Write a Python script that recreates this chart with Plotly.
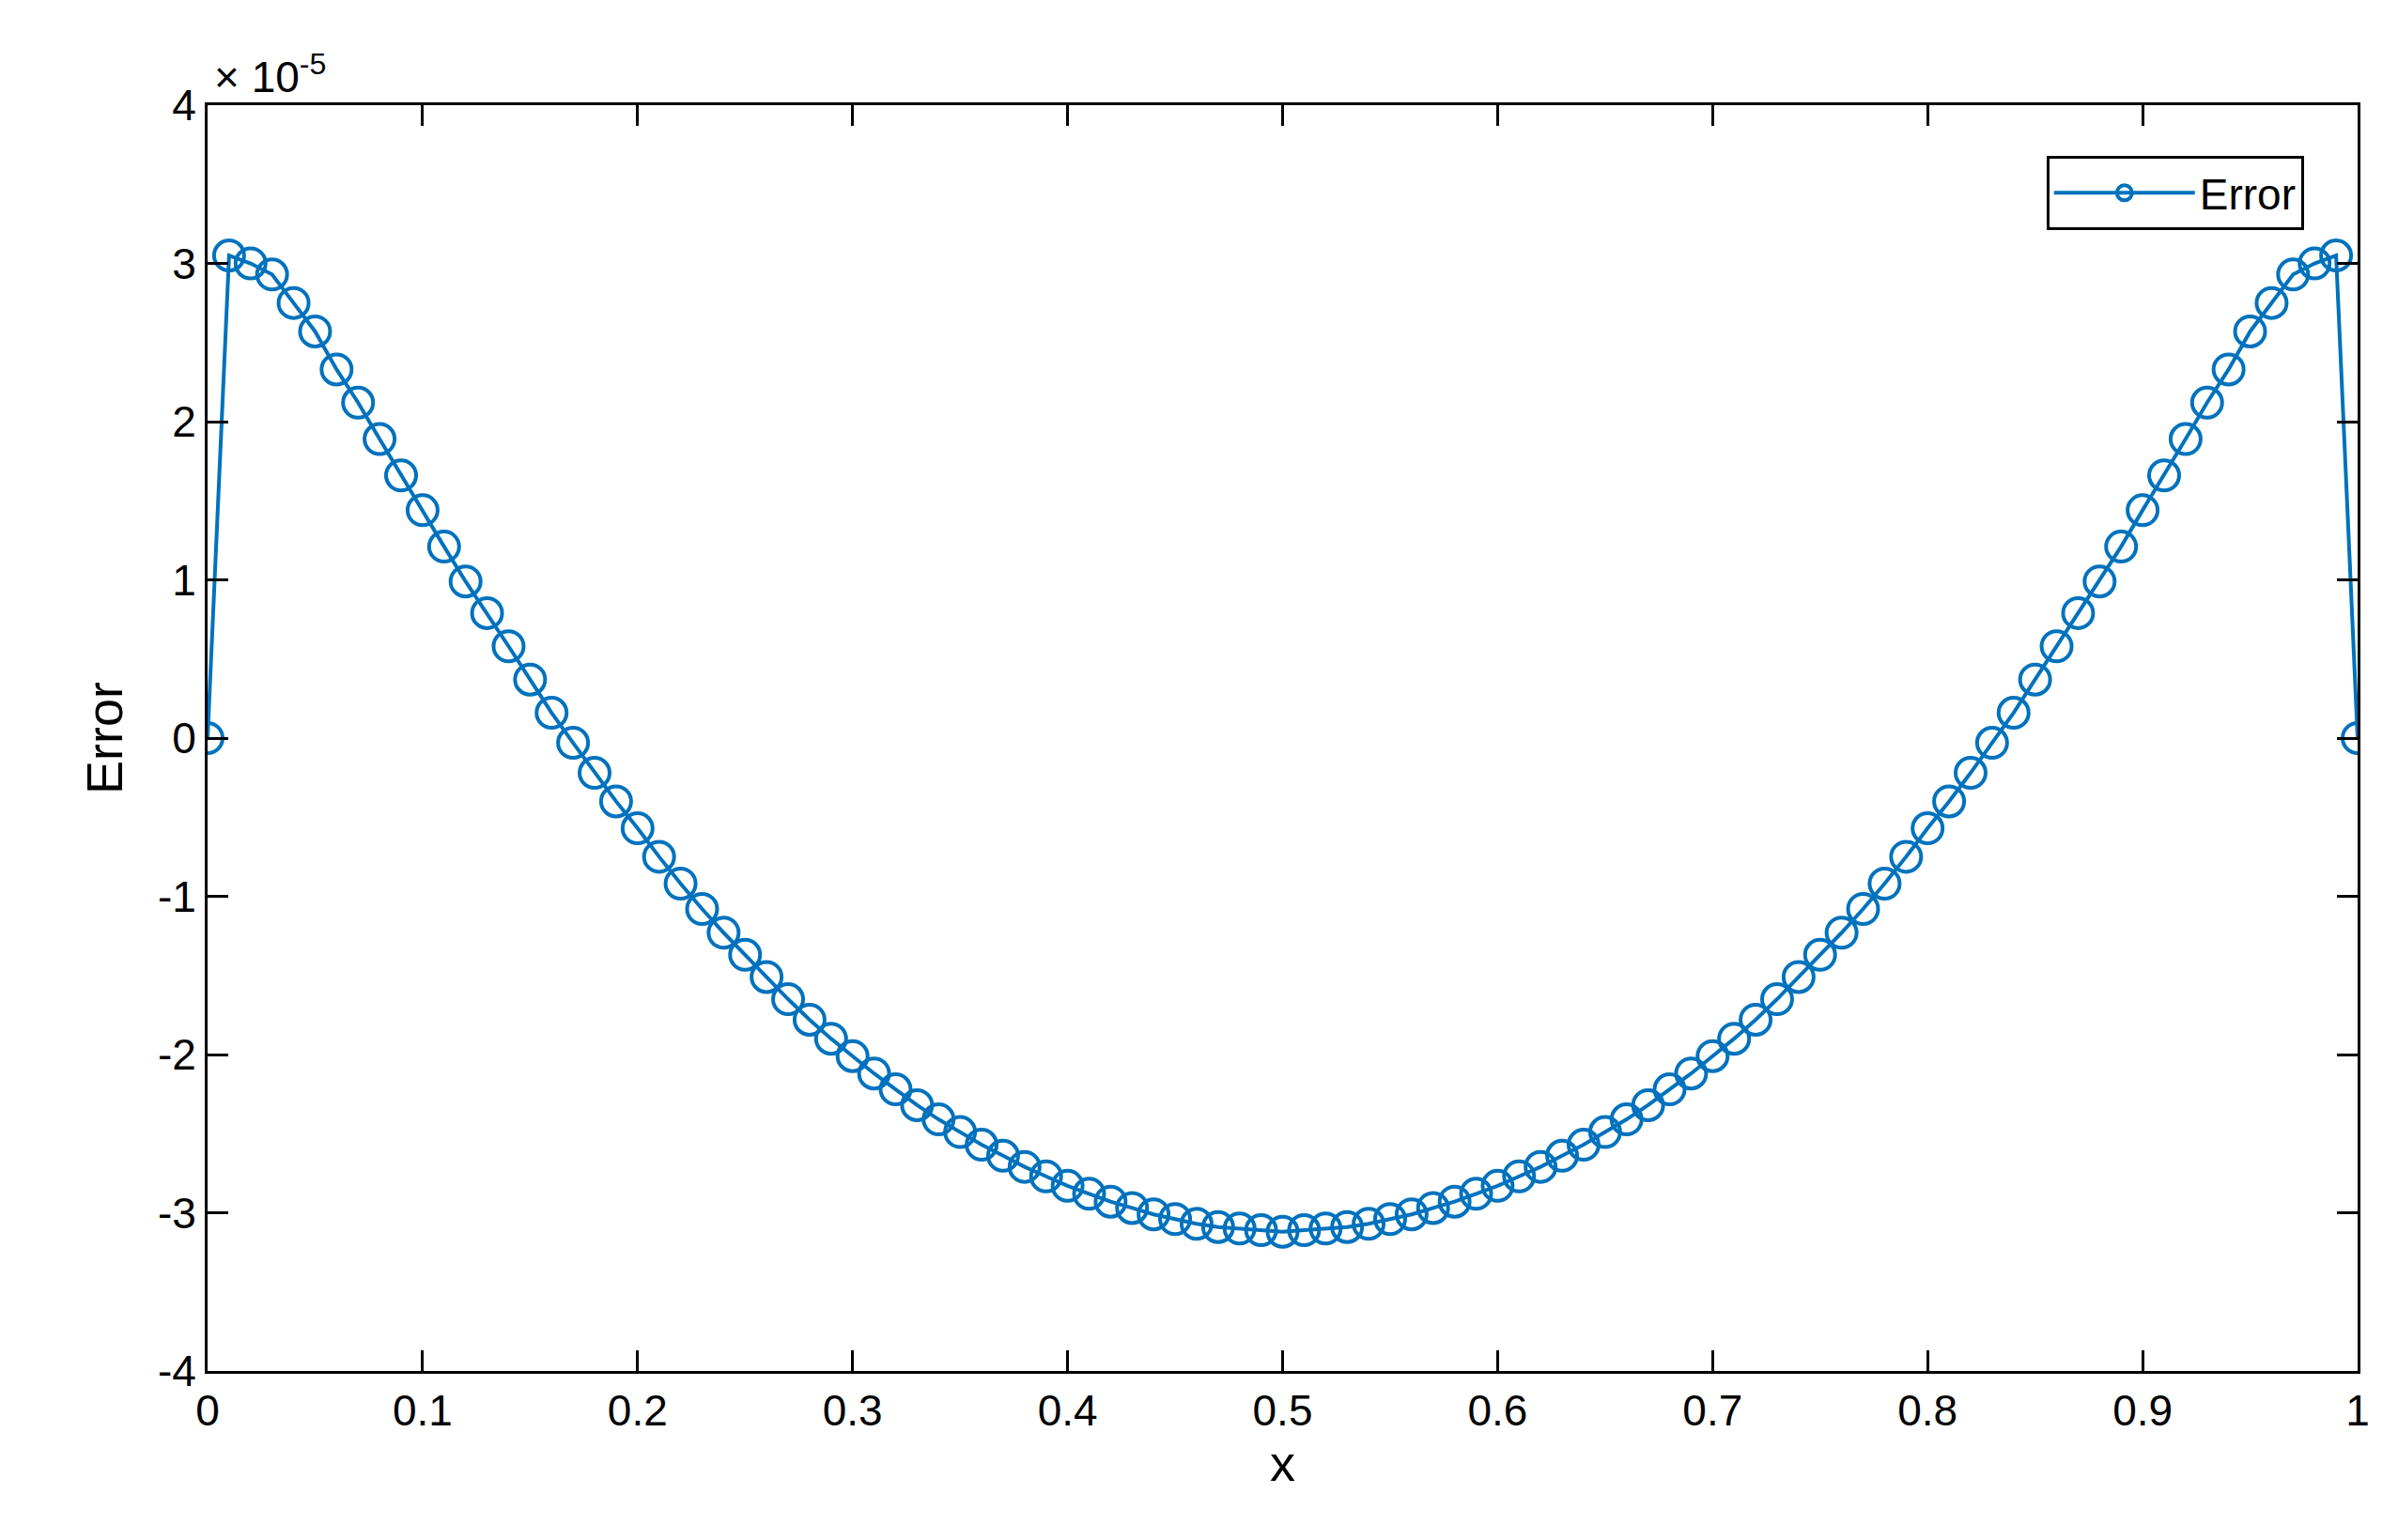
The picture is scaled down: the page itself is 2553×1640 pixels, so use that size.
import plotly.graph_objects as go

x = [round(i * 0.01, 2) for i in range(101)]
err_e5 = [0.00,
 3.05, 3.00, 2.93, 2.75, 2.57, 2.33, 2.12, 1.89, 1.66, 1.44,
 1.21, 0.99, 0.79, 0.58, 0.37, 0.16, -0.03, -0.22, -0.40, -0.57,
 -0.75, -0.92, -1.08, -1.23, -1.37, -1.51, -1.65, -1.78, -1.90, -2.01,
 -2.12, -2.22, -2.32, -2.41, -2.49, -2.57, -2.64, -2.71, -2.77, -2.83,
 -2.88, -2.93, -2.97, -3.01, -3.04, -3.07, -3.09, -3.10, -3.11, -3.12,
 -3.11, -3.10, -3.09, -3.07, -3.04, -3.01, -2.97, -2.93, -2.88, -2.83,
 -2.77, -2.71, -2.64, -2.57, -2.49, -2.41, -2.32, -2.22, -2.12, -2.01,
 -1.90, -1.78, -1.65, -1.51, -1.37, -1.23, -1.08, -0.92, -0.75, -0.57,
 -0.40, -0.22, -0.03, 0.16, 0.37, 0.58, 0.79, 0.99, 1.21, 1.44,
 1.66, 1.89, 2.12, 2.33, 2.57, 2.75, 2.93, 3.00, 3.05, 0.00]
xticks = [0, 0.1, 0.2, 0.3, 0.4, 0.5, 0.6, 0.7, 0.8, 0.9, 1]
xticklabels = ["0", "0.1", "0.2", "0.3", "0.4", "0.5", "0.6", "0.7", "0.8", "0.9", "1"]
yticks = [-4, -3, -2, -1, 0, 1, 2, 3, 4]
yticklabels = ["-4", "-3", "-2", "-1", "0", "1", "2", "3", "4"]

C = "#0072BD"
fig = go.Figure(go.Scatter(
    x=x, y=err_e5, mode="lines+markers", name="Error",
    line=dict(color=C, width=4),
    marker=dict(symbol="circle-open", size=32, color=C, line=dict(width=4, color=C))))

ax = dict(showline=True, mirror="ticks", linecolor="black", linewidth=3,
          ticks="inside", ticklen=22, tickwidth=3, tickcolor="black",
          showgrid=False, zeroline=False,
          tickfont=dict(family="Liberation Sans, Arial", size=46, color="black"))
fig.update_xaxes(range=[0, 1], tickvals=xticks, ticktext=xticklabels,
                 title=dict(text="x", font=dict(size=54, color="black"), standoff=8), **ax)
fig.update_yaxes(range=[-4, 4], tickvals=yticks, ticktext=yticklabels,
                 title=dict(text="Error", font=dict(size=54, color="black"), standoff=20), **ax)
fig.add_annotation(xref="paper", yref="paper", x=0, y=1, xanchor="left", yanchor="bottom",
                   xshift=5, yshift=2, showarrow=False,
                   text="\u00d7 10<sup>-5</sup>",
                   font=dict(family="Liberation Sans, Arial", size=46, color="black"))
fig.update_layout(
    width=2553, height=1640, plot_bgcolor="white", paper_bgcolor="white",
    margin=dict(l=213, r=51, t=104, b=188),
    font=dict(family="Liberation Sans, Arial", color="black"),
    showlegend=True,
    legend=dict(x=0.975, y=0.96, xanchor="right", yanchor="top",
                bordercolor="black", borderwidth=3, bgcolor="white",
                font=dict(size=46, color="black"), itemwidth=150))
fig.write_html("out.html")
